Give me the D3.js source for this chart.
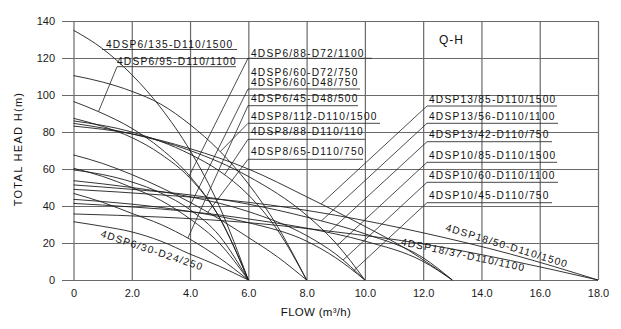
<!DOCTYPE html>
<html><head><meta charset="utf-8">
<script src="https://cdn.jsdelivr.net/npm/d3@7"></script>
<style>
body{margin:0;background:#fff;}
svg{display:block;font-family:"Liberation Sans",Arial,sans-serif;}
</style></head>
<body><svg id="c" width="621" height="329"></svg>
<script>
// ---------- data ----------
const xTicks = [0,2,4,6,8,10,12,14,16,18];
const xTickLabels = ["0","2.0","4.0","6.0","8.0","10.0","12.0","14.0","16.0","18.0"];
const yTicks = [0,20,40,60,80,100,120,140];
const yTickLabels = ["0","20","40","60","80","100","120","140"];

const flow_6_135 = [0,1,2,3,4,5,6];           const head_6_135 = [135,125,111,93,70,40,0];
const flow_8_112 = [0,1,2,3,4,5,6,7,8];       const head_8_112 = [110.5,107,102,95,84,70,52,29,0];
const flow_6_95  = [0,0.86,2,3,4,5,6];        const head_6_95  = [96.5,91,82,71,56,34,0];
const flow_6_88  = [0,1,2,3,4,5,6];           const head_6_88  = [87.4,83,77,68,55,34,0];
const flow_8_88  = [0,2,4,5,6,7,8];           const head_8_88  = [86,80,68,59,46,27,0];
const flow_10_85 = [0,2,4,6,8,9,10];          const head_10_85 = [84.7,79,70,56,35,20,0];
const flow_13_85 = [0,2,4,6,8,10,11.5,13];    const head_13_85 = [83.2,79,71,60,45,29,16,0];
const flow_8_65  = [0,1,2,3,4,5,6,7,8];       const head_8_65  = [67.6,63,57,50,42,33,23,12.5,0];
const flow_6_60a = [0,1,2,3,4,5,6];           const head_6_60a = [60.4,56,50,43,33,20,0];
const flow_6_60b = [0,1,2,3,4,5,6];           const head_6_60b = [59.5,57,53,47,38,24,0];
const flow_10_60 = [0,2,4,6,8,9,10];          const head_10_60 = [53.7,50,45,37,24,14,0];
const flow_13_56 = [0,2,4,6,8,10,12,13];      const head_13_56 = [51.4,49,46,41,34,25,12,0];
const flow_18_50 = [0,3,6,9,12,15,18];        const head_18_50 = [49,46,42,35,25.5,14,0];
const flow_6_45  = [0,1,2,3,4,5,6];           const head_6_45  = [46.8,42,36,30,22,12,0];
const flow_10_45 = [0,2,4,6,8,9,10];          const head_10_45 = [43.6,41,37,31,21,12,0];
const flow_13_42 = [0,2,4,6,8,10,12,13];      const head_13_42 = [41.4,39.5,37,33,28,21,10,0];
const flow_18_37 = [0,3,6,9,12,15,18];        const head_18_37 = [35.7,34,31,26,19.5,10.5,0];
const flow_6_30  = [0,1,2,3,4,5,6];           const head_6_30  = [31.5,29,26,21,14,7.5,0];

const curveIds   = ["6_135","8_112","6_95","6_88","8_88","10_85","13_85","8_65","6_60a","6_60b","10_60","13_56","18_50","6_45","10_45","13_42","18_37","6_30"];
const curveFlows = [flow_6_135,flow_8_112,flow_6_95,flow_6_88,flow_8_88,flow_10_85,flow_13_85,flow_8_65,flow_6_60a,flow_6_60b,flow_10_60,flow_13_56,flow_18_50,flow_6_45,flow_10_45,flow_13_42,flow_18_37,flow_6_30];
const curveHeads = [head_6_135,head_8_112,head_6_95,head_6_88,head_8_88,head_10_85,head_13_85,head_8_65,head_6_60a,head_6_60b,head_10_60,head_13_56,head_18_50,head_6_45,head_10_45,head_13_42,head_18_37,head_6_30];

const labelTexts  = ["4DSP6/135-D110/1500","4DSP6/95-D110/1100",
  "4DSP6/88-D72/1100","4DSP6/60-D72/750","4DSP6/60-D48/750","4DSP6/45-D48/500","4DSP8/112-D110/1500","4DSP8/88-D110/110","4DSP8/65-D110/750",
  "4DSP13/85-D110/1500","4DSP13/56-D110/1100","4DSP13/42-D110/750","4DSP10/85-D110/1500","4DSP10/60-D110/1100","4DSP10/45-D110/750"];
const labelCurves = ["6_135","6_95","6_88","6_60a","6_60b","6_45","8_112","8_88","8_65","13_85","13_56","13_42","10_85","10_60","10_45"];
const rotLabelTexts = ["4DSP6/30-D24/250","4DSP18/50-D110/1500","4DSP18/37-D110/1100"];
const titleText = "Q-H";
const xTitle = "FLOW (m³/h)";
const yTitle = "TOTAL HEAD H(m)";

// ---------- layout (pixels) ----------
// text x, baseline y, underline y, underline x1, x2, leader slope (null = none)
const labelLayout = [
  [106,47.5,49.5,102,237,null],
  [117,64.5,66.7,117,236,2.4],
  [251,57,58.3,248,372,2.0],
  [251,76,null,null,null,null],
  [251,85.7,89,248,360,2.0],
  [251,102.3,105.7,248,358,2.2],
  [251,120,123.3,248,380,1.0],
  [251,135,139.3,248,365,1.5],
  [251,155,159.3,248,363,1.3],
  [429,102.8,106,427,557,0.92],
  [429,119.8,123.3,427,558,0.92],
  [429,138,141.7,427,552,0.92],
  [429,159,162.3,427,557,0.92],
  [429,178.5,182.3,427,558,0.92],
  [429,199,202.7,427,552,0.92]
];
const rotLayout = [[100,236.5,18.5],[445,230.5,17],[400.5,245,12]];

const svg = d3.select("#c");
const x = d3.scaleLinear().domain([0,18]).range([73.5,598]);
const y = d3.scaleLinear().domain([0,140]).range([280,21]);
const gridColor = "#6a6a6a";

const yAxis = svg.append("g").attr("transform","translate(62,0)")
  .call(d3.axisLeft(y).tickValues(yTicks).tickFormat((d,i)=>yTickLabels[i]).tickSize(-(598-62)).tickPadding(7));
yAxis.select(".domain").remove();
yAxis.selectAll("line").attr("stroke",gridColor).attr("stroke-width",1.2);
yAxis.selectAll("text").attr("font-size",11).attr("fill","#1a1a1a").attr("font-family","Liberation Sans, Arial, sans-serif").attr("dy","0.36em");

const xAxis = svg.append("g").attr("transform","translate(0,280)")
  .call(d3.axisBottom(x).tickValues(xTicks).tickFormat((d,i)=>xTickLabels[i]).tickSize(-(280-21)).tickPadding(9));
xAxis.select(".domain").remove();
xAxis.selectAll("line").attr("stroke",gridColor).attr("stroke-width",1.2);
xAxis.selectAll("text").attr("font-size",11).attr("fill","#1a1a1a").attr("font-family","Liberation Sans, Arial, sans-serif");

const line = d3.line().x(d=>x(d[0])).y(d=>y(d[1])).curve(d3.curveMonotoneX);
const curveNodes = {};
curveIds.forEach((id,i)=>{
  const pts = curveFlows[i].map((q,j)=>[q,curveHeads[i][j]]);
  const p = svg.append("path").attr("d",line(pts)).attr("fill","none")
    .attr("stroke","#1e1e1e").attr("stroke-width",0.9);
  curveNodes[id]=p.node();
});

function leaderEnd(node,x0,y0,s){
  const L=node.getTotalLength(); let prev=null;
  for(let l=0;l<=L;l+=0.5){
    const p=node.getPointAtLength(l);
    const d=p.y-(y0+s*(x0-p.x));
    if(prev && prev.d<0 && d>=0 && p.x<x0) return p;
    prev={d,p};
  }
  return prev.p;
}

const lab = svg.append("g").attr("font-size",10.2).attr("letter-spacing","1.2px").attr("fill","#111");
labelTexts.forEach((t,i)=>{
  const [tx,ty,uy,ux1,ux2,s]=labelLayout[i];
  lab.append("text").attr("x",tx).attr("y",ty).text(t);
  if(uy!==null){
    svg.append("line").attr("x1",ux1).attr("x2",ux2).attr("y1",uy).attr("y2",uy)
      .attr("stroke","#333").attr("stroke-width",0.9);
    if(s!==null){
      const e=leaderEnd(curveNodes[labelCurves[i]],ux1,uy,s);
      svg.append("line").attr("x1",ux1).attr("y1",uy).attr("x2",e.x).attr("y2",e.y)
        .attr("stroke","#222").attr("stroke-width",0.8);
    }
  }
});
rotLabelTexts.forEach((t,i)=>{
  const [tx,ty,a]=rotLayout[i];
  lab.append("text").attr("transform",`translate(${tx},${ty}) rotate(${a})`).text(t);
});

svg.append("text").attr("x",439).attr("y",44).attr("font-size",12).attr("letter-spacing","1px").attr("fill","#111").text(titleText);
svg.append("text").attr("x",316).attr("y",315.5).attr("text-anchor","middle").attr("font-size",11.5).attr("letter-spacing","0.3px").attr("fill","#111").text(xTitle);
svg.append("text").attr("transform","translate(22,149) rotate(-90)").attr("text-anchor","middle").attr("font-size",11).attr("letter-spacing","1.3px").attr("fill","#111").text(yTitle);
</script></body></html>
